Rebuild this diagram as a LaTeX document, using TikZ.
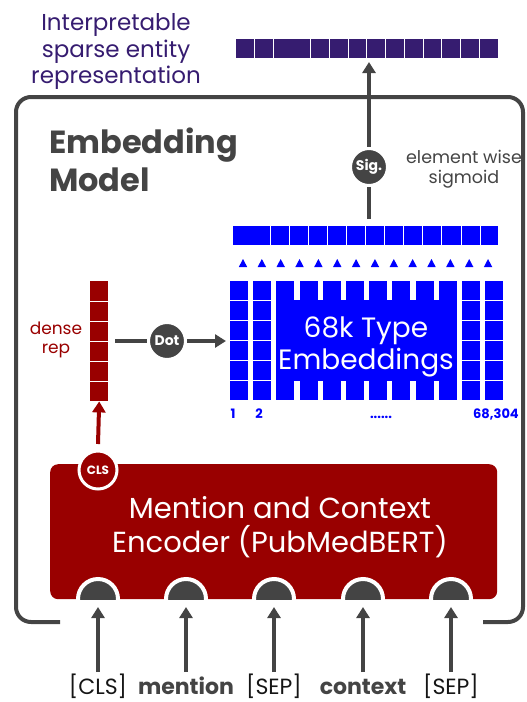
\documentclass[tikz,border=0pt]{standalone}
\usepackage{fontspec}
\setmainfont{Poppins}
\usetikzlibrary{arrows.meta}
\definecolor{dgray}{HTML}{444444}
\definecolor{dred}{HTML}{990000}
\definecolor{vblue}{HTML}{0000FF}
\definecolor{dpurple}{HTML}{361C70}
\definecolor{nblack}{HTML}{151515}
\newcommand{\fs}[1]{\fontsize{#1}{#1}\selectfont}
\begin{document}
\begin{tikzpicture}[x=1pt,y=-1pt,
  gline/.style={draw=dgray, line width=4pt},
  garrow/.style={gline, -{Triangle[width=13pt,length=11pt]}},
  rarrow/.style={draw=dred, line width=4pt, -{Triangle[width=13pt,length=11pt]}},
  opnode/.style={circle, fill=dgray, draw=white, line width=3pt, minimum size=37pt, inner sep=0pt, text=white, font=\bfseries\fs{14}},
  txt/.style={inner sep=0pt, anchor=base},
  inpc/.style={circle, fill=dgray, draw=white, line width=4pt, minimum size=40pt, inner sep=0pt},
]
\useasboundingbox (0,0) rectangle (527,702);

% outer box
\draw[gline, rounded corners=15pt] (60,622) -- (16,622) -- (16,97) -- (523,97) -- (523,622) -- (483,622);

% title texts
\node[txt, text=dpurple, font=\fs{23}] (i1) at (116,30) {Interpretable};
\node[txt, text=dpurple, font=\fs{23}] (i2) at (116,57) {sparse entity};
\node[txt, text=dpurple, font=\fs{23}] (i3) at (116,83) {representation};

\node[txt, anchor=base west, text=dgray, font=\bfseries\fs{32}] (m1) at (49,153) {Embedding};
\node[txt, anchor=base west, text=dgray, font=\bfseries\fs{32}] (m2) at (49,191) {Model};

\node[txt, text=dgray, font=\fs{17.5}] (s1) at (464,163) {element wise};
\node[txt, text=dgray, font=\fs{17.5}] (s2) at (464,183) {sigmoid};

% sparse bar
\node[fill=dpurple, minimum width=262pt, minimum height=19pt, inner sep=0pt, anchor=north west] (sparse) at (236,39) {};
\foreach \k in {1,2,4,5,6,7,8,9,10,11,12,13}
  \draw[white, line width=1pt] ({236+18.71*\k},39) -- ({236+18.71*\k},58);

% top blue bar
\node[fill=vblue, minimum width=265pt, minimum height=19pt, inner sep=0pt, anchor=north west] (logits) at (233,226) {};
\foreach \k in {0,...,11}
  \draw[white, line width=1pt] ({270+19.1*\k},226) -- ({270+19.1*\k},245);

% triangles
\foreach \k in {0,...,13}
  \fill[vblue] ({243+18.85*\k-4.2},267) -- ({243+18.85*\k+4.2},267) -- ({243+18.85*\k},259) -- cycle;

% sig arrow
\coordinate (sigtop) at (369,219);
\coordinate (sigend) at (369,62);
\draw[garrow] (sigtop) -- (sigend);
\node[opnode] (sig) at (369,167) {Sig.};

% type embedding grid
\foreach \i in {0,...,11}
  \foreach \j in {0,...,5}
    \fill[vblue] ({230+23.2*\i},{281+20*\j}) rectangle +(18,18.5);
\node[fill=vblue, minimum width=181pt, minimum height=81pt, inner sep=0pt, anchor=north west] (types) at (276,300) {};
\node[txt, text=white, font=\fs{28}] (t1) at (366,337) {68k Type};
\node[txt, text=white, font=\fs{28}] (t2) at (366,369) {Embeddings};

\node[txt, text=vblue, font=\bfseries\fs{13}] (n1) at (233,418) {1};
\node[txt, text=vblue, font=\bfseries\fs{13}] (n2) at (259,418) {2};
\node[txt, text=vblue, font=\bfseries\fs{13}] (n3) at (381,418) {......};
\node[txt, text=vblue, font=\bfseries\fs{13}] (n4) at (496,418) {68,304};

% dense rep
\node[fill=dred, minimum width=18pt, minimum height=120pt, inner sep=0pt, anchor=north west] (dense) at (90,281) {};
\foreach \j in {1,...,5}
  \draw[white, line width=1pt] (90,{281+20*\j}) -- (108,{281+20*\j});
\node[txt, text=dred, font=\fs{17}] (d1) at (56,334) {dense};
\node[txt, text=dred, font=\fs{17}] (d2) at (56,353) {rep};

% dot arrow
\coordinate (dotstart) at (115,341);
\coordinate (dotend) at (226,341);
\draw[garrow] (dotstart) -- (dotend);
\node[opnode] (dot) at (167,341) {Dot};

% encoder
\node[fill=dred, rounded corners=8pt, minimum width=447pt, minimum height=135pt, inner sep=0pt, anchor=north west] (enc) at (50,464) {};
\node[txt, text=white, font=\fs{29}] (e1) at (280,518) {Mention and Context};
\node[txt, text=white, font=\fs{29}] (e2) at (280,552) {Encoder (PubMedBERT)};

% CLS output
\draw[rarrow] (98,444) -- (dense.south);
\node[circle, fill=dred, draw=white, line width=3pt, minimum size=38pt, inner sep=0pt, text=white, font=\bfseries\fs{12}] (cls) at (98,470) {CLS};

% input circles
\begin{scope}
  \clip (0,0) rectangle (527,599);
  \foreach \x/\n in {98/a,186/b,274/c,363/d,451/e}
    \node[inpc] (in\n) at (\x,599) {};
\end{scope}

% inputs
\foreach \x/\n in {98/a,186/b,274/c,363/d,451/e}{
  \coordinate (src\n) at (\x,672);
  \coordinate (dst\n) at (\x,607);
  \draw[garrow] (src\n) -- (dst\n);
}
\node[txt, text=nblack, font=\fs{22}] (la) at (98,694) {[CLS]};
\node[txt, text=dgray, font=\bfseries\fs{22}] (lb) at (186,694) {mention};
\node[txt, text=nblack, font=\fs{22}] (lc) at (274,694) {[SEP]};
\node[txt, text=dgray, font=\bfseries\fs{22}] (ld) at (363,694) {context};
\node[txt, text=nblack, font=\fs{22}] (le) at (451,694) {[SEP]};
\end{tikzpicture}
\end{document}
